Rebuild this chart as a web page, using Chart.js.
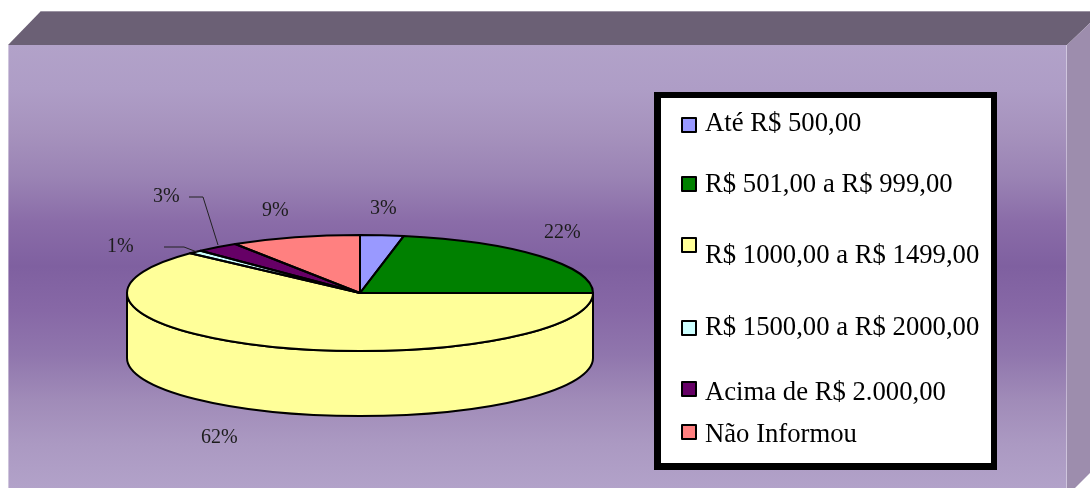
<!DOCTYPE html>
<html><head><meta charset="utf-8">
<style>html,body{margin:0;padding:0;background:#fff}canvas{display:block}</style>
<script src="https://cdn.jsdelivr.net/npm/chart.js@4"></script>
</head><body>
<div style="width:1090px;height:488px"><canvas id="c" width="1090" height="488"></canvas></div>
<script>
const categories = ['Até R$ 500,00','R$ 501,00 a R$ 999,00','R$ 1000,00 a R$ 1499,00','R$ 1500,00 a R$ 2000,00','Acima de R$ 2.000,00','Não Informou'];
const values = [3,22,62,1,3,9];
const colors = ['#9999ff','#008000','#ffff99','#ccffff','#660066','#ff8080'];

const CY = 293, RY = 58, DEPTH = 65;
const SERIF = '"Liberation Serif","Times New Roman",serif';
const legendY = [[118,131],[177,192],[238,263],[321,335],[382,400],[425,442]];
const labelPos = [[370,214],[544,238],[201,443],[107,252],[153,202],[262,216]];

function frontGradient(ctx){
  const g = ctx.createLinearGradient(0,45,0,488);
  [[0,'#b2a2c9'],[0.1,'#ae9dc6'],[0.2,'#a692bd'],[0.3,'#9a83b4'],[0.4,'#8a6ca8'],[0.5,'#7f60a0'],
   [0.6,'#8768a6'],[0.7,'#9076ad'],[0.8,'#a08bb8'],[0.9,'#ab99c2'],[1,'#b2a2c9']].forEach(s=>g.addColorStop(s[0],s[1]));
  return g;
}
function poly(ctx,pts,fill){
  ctx.beginPath(); pts.forEach((p,i)=>i?ctx.lineTo(p[0],p[1]):ctx.moveTo(p[0],p[1]));
  ctx.closePath(); ctx.fillStyle=fill; ctx.fill();
}
function slicePath(ctx,p,ry,cy){
  ctx.beginPath(); ctx.moveTo(p.x,cy);
  ctx.ellipse(p.x,cy,p.outerRadius,ry,0,p.startAngle,p.endAngle);
  ctx.closePath();
}
const props=['x','y','startAngle','endAngle','outerRadius'];
const tilt3d = {
  id:'tilt3d',
  beforeDraw(chart){
    const ctx=chart.ctx; ctx.save();
    ctx.fillStyle='#fff'; ctx.fillRect(0,0,1090,488);
    poly(ctx,[[8,45],[41,11],[1090,11],[1090,23],[1067,45]],'#6b6075');
    ctx.fillStyle='#9b93a3'; ctx.fillRect(41,11,1049,1);
    poly(ctx,[[1067,45],[1090,23],[1090,473],[1075,488],[1067,488]],'#9d8dad');
    ctx.fillStyle=frontGradient(ctx); ctx.fillRect(8,45,1059,443);
    ctx.fillStyle='rgba(255,255,255,.4)'; ctx.fillRect(8,45,1,443); ctx.fillRect(1066,45,1,443);
    ctx.restore();
  },
  beforeDatasetDraw(chart){
    const ctx=chart.ctx, arcs=chart.getDatasetMeta(0).data;
    ctx.save();
    ctx.lineWidth=2; ctx.strokeStyle='#000'; ctx.lineJoin='round';
    arcs.forEach((a,i)=>{
      const p=a.getProps(props,true);
      const s=Math.max(p.startAngle,0), e=Math.min(p.endAngle,Math.PI);
      const s2=Math.max(p.startAngle,2*Math.PI), e2=Math.min(p.endAngle,3*Math.PI);
      [[s,e],[s2,e2]].forEach(([a0,a1])=>{
        if(a1<=a0) return;
        ctx.beginPath();
        ctx.ellipse(p.x,CY,p.outerRadius,RY,0,a0,a1);
        ctx.ellipse(p.x,CY+DEPTH,p.outerRadius,RY,0,a1,a0,true);
        ctx.closePath();
        ctx.fillStyle=colors[i]; ctx.fill(); ctx.stroke();
      });
    });
    ctx.restore();
    ctx.save();
    const cy=arcs[0].getProps(props,true).y, k=RY/arcs[0].getProps(props,true).outerRadius;
    ctx.translate(0,CY); ctx.scale(1,k); ctx.translate(0,-cy);
  },
  afterDatasetDraw(chart){
    const ctx=chart.ctx, arcs=chart.getDatasetMeta(0).data;
    ctx.restore();
    ctx.save();
    ctx.lineWidth=2; ctx.strokeStyle='#000'; ctx.lineJoin='round';
    arcs.forEach(a=>{ slicePath(ctx,a.getProps(props,true),RY,CY); ctx.stroke(); });
    ctx.lineWidth=1; ctx.strokeStyle='#222';
    [[[189,197],[203,197],[218,245]],[[164,247],[184,247],[197,252]]].forEach(l=>{
      ctx.beginPath(); l.forEach((q,i)=>i?ctx.lineTo(q[0],q[1]):ctx.moveTo(q[0],q[1])); ctx.stroke();
    });
    ctx.fillStyle='#1c1c1c'; ctx.font='20px '+SERIF; ctx.textAlign='left'; ctx.textBaseline='alphabetic';
    const total=values.reduce((a,b)=>a+b,0);
    values.forEach((v,i)=>ctx.fillText(Math.round(v/total*100)+'%',labelPos[i][0],labelPos[i][1]));
    ctx.fillStyle='#000'; ctx.fillRect(654,92,343,378);
    ctx.fillStyle='#fff'; ctx.fillRect(661,98,330,365);
    categories.forEach((c,i)=>{
      const [my,ty]=legendY[i];
      ctx.fillStyle=colors[i]; ctx.fillRect(682,my,14,14);
      ctx.lineWidth=2; ctx.strokeStyle='#000'; ctx.strokeRect(682,my,14,14);
      ctx.fillStyle='#000'; ctx.font='26.7px '+SERIF; ctx.fillText(c,705,ty);
    });
    ctx.restore();
  }
};
new Chart(document.getElementById('c'),{
  type:'pie',
  data:{labels:categories,datasets:[{data:values,backgroundColor:colors,borderWidth:0}]},
  options:{
    responsive:false,animation:false,
    layout:{padding:{left:127,right:497,top:11,bottom:11}},
    plugins:{legend:{display:false},tooltip:{enabled:false}}
  },
  plugins:[tilt3d]
});
</script>
</body></html>
